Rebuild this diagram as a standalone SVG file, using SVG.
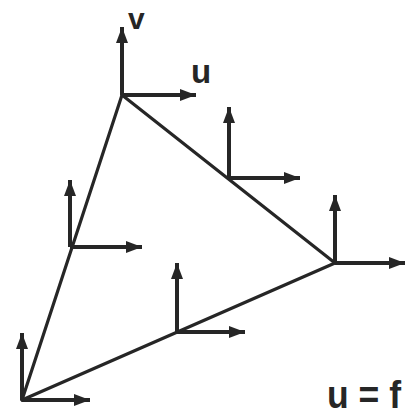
<svg xmlns="http://www.w3.org/2000/svg" width="407" height="415" viewBox="0 0 407 415">
<style>
.edge{stroke:#262626;stroke-width:3.2;fill:none;stroke-linecap:round}
.ax{stroke:#262626;stroke-width:4;fill:none;marker-end:url(#ah)}
.lbl{font-family:"Liberation Sans",Arial,sans-serif;fill:#262626;font-weight:bold}
</style>
<defs>
<marker id="ah" markerUnits="userSpaceOnUse" markerWidth="18" markerHeight="14" refX="16" refY="6" orient="auto">
<path d="M0,0 L16,6 L0,12 Z" fill="#262626"/>
</marker>
</defs>
<rect width="407" height="415" fill="#ffffff"/>
<g id="connectors">
<line class="edge" x1="122" y1="95" x2="335" y2="263"/>
<line class="edge" x1="335" y1="263" x2="22" y2="400"/>
<line class="edge" x1="22" y1="400" x2="122" y2="95"/>
</g>
<g id="node-top">
<line class="ax" x1="122" y1="95" x2="122" y2="27"/>
<line class="ax" x1="122" y1="95" x2="196" y2="95"/>
</g>
<g id="node-mid-ab">
<line class="ax" x1="229" y1="178" x2="229" y2="107"/>
<line class="ax" x1="229" y1="178" x2="300" y2="178"/>
</g>
<g id="node-right">
<line class="ax" x1="335" y1="263" x2="335" y2="195"/>
<line class="ax" x1="335" y1="263" x2="405" y2="263"/>
</g>
<g id="node-mid-ac">
<line class="ax" x1="70" y1="247" x2="70" y2="180"/>
<line class="ax" x1="70" y1="247" x2="142" y2="247"/>
</g>
<g id="node-mid-bc">
<line class="ax" x1="177" y1="332" x2="177" y2="263"/>
<line class="ax" x1="177" y1="332" x2="245" y2="332"/>
</g>
<g id="node-bottom">
<line class="ax" x1="22" y1="400" x2="22" y2="333"/>
<line class="ax" x1="22" y1="400" x2="90" y2="400"/>
</g>
<g id="labels">
<text class="lbl" x="128" y="29" font-size="30">v</text>
<text class="lbl" x="191" y="83" font-size="33">u</text>
<text class="lbl" x="327" y="408" font-size="38" textLength="74" lengthAdjust="spacingAndGlyphs">u = f</text>
</g>
</svg>
